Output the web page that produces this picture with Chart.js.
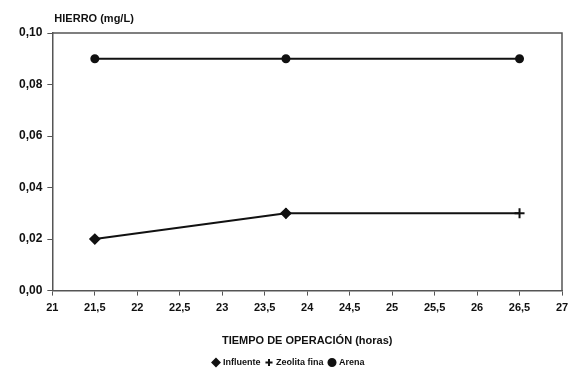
<!DOCTYPE html>
<html>
<head>
<meta charset="utf-8">
<script src="https://cdn.jsdelivr.net/npm/chart.js@4/dist/chart.umd.min.js"></script>
<style>
  html, body { margin: 0; padding: 0; background: #fff; }
  #wrap { width: 569px; height: 372px; }
</style>
</head>
<body>
<div id="wrap"><canvas id="c" width="569" height="372"></canvas></div>
<script>
const hours = [21.5, 23.75, 26.5];
const influente = [0.02, 0.03, null];
const zeolitaFina = [null, 0.03, 0.03];
const arena = [0.09, 0.09, 0.09];

const fontFam = '"Liberation Sans", Arial, sans-serif';
const comma = (v, d) => v.toFixed(d).replace('.', ',');

const toPoints = (vals) => hours.map((h, i) => ({ x: h, y: vals[i] }));

// frame around the plot area + y title
const framePlugin = {
  id: 'frame',
  afterDraw(chart) {
    const { ctx, chartArea: a } = chart;
    ctx.save();
    ctx.strokeStyle = '#555';
    ctx.lineWidth = 1.5;
    ctx.beginPath();
    ctx.moveTo(a.left, a.top);
    ctx.lineTo(a.right, a.top);
    ctx.lineTo(a.right, a.bottom);
    ctx.stroke();
    ctx.fillStyle = '#111';
    ctx.font = 'bold 11px ' + fontFam;
    ctx.textBaseline = 'middle';
    ctx.fillText('HIERRO (mg/L)', a.left + 2, 19);
    ctx.restore();
  }
};

new Chart(document.getElementById('c'), {
  type: 'line',
  data: {
    datasets: [
      {
        label: 'Influente',
        data: toPoints(influente),
        borderColor: '#111',
        backgroundColor: '#111',
        borderWidth: 2,
        pointStyle: 'rectRot',
        pointRadius: 4.5,
        order: 1
      },
      {
        label: 'Zeolita fina',
        data: toPoints(zeolitaFina),
        borderColor: '#111',
        backgroundColor: '#111',
        borderWidth: 2,
        pointStyle: 'cross',
        pointRadius: 5,
        pointBorderWidth: 2,
        order: 2
      },
      {
        label: 'Arena',
        data: toPoints(arena),
        borderColor: '#111',
        backgroundColor: '#111',
        borderWidth: 2,
        pointStyle: 'circle',
        pointRadius: 3.5,
        order: 3
      }
    ]
  },
  options: {
    responsive: false,
    animation: false,
    layout: { padding: { top: 33, right: 5, left: 14, bottom: -5 } },
    plugins: {
      legend: {
        position: 'bottom',
        labels: {
          usePointStyle: true,
          boxWidth: 5,
          boxHeight: 5,
          padding: 6,
          color: '#111',
          font: { family: fontFam, size: 9, weight: 'bold' }
        }
      },
      tooltip: { enabled: false }
    },
    scales: {
      x: {
        type: 'linear',
        min: 21,
        max: 27,
        afterFit: (scale) => { scale.paddingRight = 0; },
        border: { color: '#555', width: 1.5 },
        grid: { drawOnChartArea: false, drawTicks: true, tickLength: 5, color: '#555' },
        ticks: {
          stepSize: 0.5,
          color: '#111',
          maxRotation: 0,
          autoSkip: false,
          padding: 6,
          font: { family: fontFam, size: 11, weight: 'bold' },
          callback: (v) => (Number.isInteger(v) ? String(v) : comma(v, 1))
        },
        title: {
          display: true,
          text: 'TIEMPO DE OPERACIÓN (horas)',
          color: '#111',
          padding: { top: 14, bottom: 4 },
          font: { family: fontFam, size: 11, weight: 'bold' }
        }
      },
      y: {
        min: 0,
        max: 0.1,
        border: { color: '#555', width: 1.5 },
        grid: { drawOnChartArea: false, drawTicks: true, tickLength: 5, color: '#555' },
        ticks: {
          stepSize: 0.02,
          color: '#111',
          padding: 5,
          font: { family: fontFam, size: 12, weight: 'bold' },
          callback: (v) => comma(v, 2)
        }
      }
    }
  },
  plugins: [framePlugin]
});
</script>
</body>
</html>
